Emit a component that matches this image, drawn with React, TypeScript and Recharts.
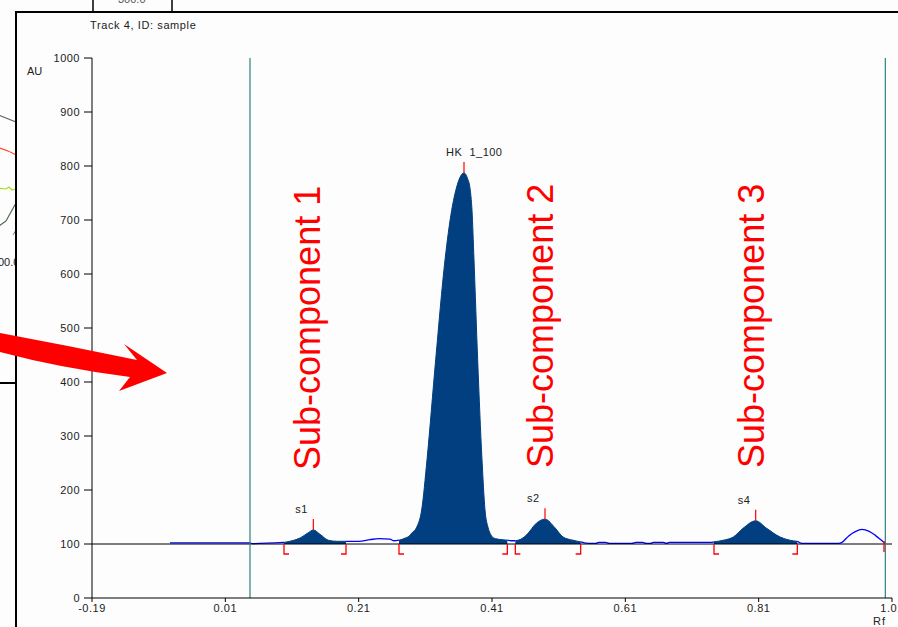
import { Area, ComposedChart, Line, ReferenceLine, Scatter, XAxis, YAxis } from "recharts";

// densitogram trace, [Rf, AU]
const leadIn: [number, number][] = [
  [-0.073, 102], [0.0, 102], [0.047, 102], [0.05, 100.8],
];
const peakS1: [number, number][] = [
  [0.098, 103], [0.11, 106], [0.122, 111], [0.1345, 121], [0.142, 126],
  [0.152, 118], [0.1645, 107], [0.177, 105], [0.191, 105],
];
const valleyA: [number, number][] = [
  [0.21, 105], [0.227, 108], [0.24, 110], [0.257, 109], [0.263, 106],
];
const peakMain: [number, number][] = [
  [0.2705, 107], [0.28, 111], [0.287, 116], [0.2895, 120], [0.297, 131],
  [0.3045, 163], [0.3125, 256], [0.3255, 441], [0.3395, 626], [0.3495, 718],
  [0.357, 761], [0.362, 779], [0.368, 787], [0.373, 778], [0.377, 759],
  [0.38, 718], [0.383, 626], [0.3885, 441], [0.395, 256], [0.3995, 163],
  [0.404, 131], [0.407, 120], [0.41, 114], [0.415, 110], [0.425, 108], [0.433, 107],
];
const peakS2: [number, number][] = [
  [0.439, 106], [0.445, 106], [0.455, 110], [0.462, 117], [0.477, 139],
  [0.4895, 146], [0.5045, 130], [0.5165, 113], [0.5315, 107], [0.543, 104],
];
const flatRun: [number, number][] = [
  [0.556, 101], [0.566, 101], [0.57, 103], [0.58, 103], [0.586, 101],
  [0.62, 101], [0.626, 103], [0.636, 103], [0.641, 101], [0.648, 101],
  [0.652, 103], [0.667, 103], [0.672, 101], [0.676, 103], [0.738, 103],
];
const peakS4: [number, number][] = [
  [0.743, 104], [0.757, 107], [0.772, 113], [0.7865, 129], [0.8055, 143],
  [0.822, 129], [0.842, 113], [0.857, 107], [0.868, 105],
];
const tailBump: [number, number][] = [
  [0.875, 101], [0.93, 101], [0.935, 103], [0.945, 115], [0.955, 123],
  [0.965, 127], [0.975, 124], [0.985, 116], [0.995, 106], [1.0, 101],
];

// integration windows (start, end)
const windows: [number, number][] = [
  [0.098, 0.191], [0.2705, 0.433], [0.445, 0.543], [0.743, 0.868],
];

const peakRf = [0.142, 0.368, 0.4895, 0.8055];
const peakAu = [126, 787, 146, 143];
const peakNames = ["s1", "HK  1_100", "s2", "s4"];

const bracketRf = [0.098, 0.191, 0.2705, 0.433, 0.445, 0.543, 0.743, 0.868, 0.998];
const bracketKind = ["start", "end", "start", "end", "start", "end", "start", "end", "edge"];

const trackLines = [0.047, 1.0];
const baseline = 100;

const xTicks = [-0.19, 0.01, 0.21, 0.41, 0.61, 0.81, 1.01];
const yTicks = [0, 100, 200, 300, 400, 500, 600, 700, 800, 900, 1000];

const FONT = "'Liberation Sans', Arial, sans-serif";
const NAVY = "#013f80";

const trace = [...leadIn, ...peakS1, ...valleyA, ...peakMain, ...peakS2, ...flatRun, ...peakS4, ...tailBump];
const inside = (rf: number) => windows.some(([a, b]) => rf > a && rf < b);
const inWindow = (rf: number) => windows.some(([a, b]) => rf >= a && rf <= b);
const rows = trace.map(([rf, au]) => ({
  rf,
  raw: inside(rf) ? null : au,
  filled: inWindow(rf) ? au : null,
}));
const peaks = peakRf.map((rf, i) => ({ rf, au: peakAu[i], name: peakNames[i] }));
const brackets = bracketRf.map((rf, i) => ({ rf, au: baseline, kind: bracketKind[i] }));

const PeakMark = (props: any) => {
  const { cx, cy, payload } = props;
  return (
    <g>
      <line x1={cx} y1={cy} x2={cx} y2={cy - 11} stroke="#ff0000" strokeWidth={1.2} />
      <text x={cx - 18} y={cy - 17} fontSize={11} fontFamily={FONT} fill="#222"
        letterSpacing={0.5} style={{ whiteSpace: "pre" }}>
        {payload.name}
      </text>
    </g>
  );
};

const Bracket = (props: any) => {
  const { cx, cy, payload } = props;
  let d = `M${cx},${cy - 3} V${cy + 8}`;
  if (payload.kind === "start") d = `M${cx},${cy} V${cy + 10} H${cx + 5}`;
  if (payload.kind === "end") d = `M${cx},${cy} V${cy + 10} H${cx - 5}`;
  return <path d={d} stroke="#ff0000" strokeWidth={1.3} fill="none" />;
};

const tickStyle = { fontSize: 11, fill: "#222", fontFamily: FONT, letterSpacing: 0.5 };

export default function App() {
  return (
    <div style={{ position: "fixed", left: 0, top: 0, width: 898, height: 627, background: "#fdfdfd", overflow: "hidden" }}>
      <ComposedChart width={898} height={627} data={rows}
        margin={{ top: 58, right: 6, bottom: 0, left: 0 }}>
        <XAxis type="number" dataKey="rf" domain={[-0.19, 1.01]} ticks={xTicks} interval={0}
          height={29} tickSize={4} tickMargin={2} allowDataOverflow
          axisLine={{ stroke: "#000" }} tickLine={{ stroke: "#000" }} tick={tickStyle} />
        <YAxis type="number" domain={[0, 1000]} ticks={yTicks} interval={0} width={92}
          tickSize={8} tickMargin={4}
          axisLine={{ stroke: "#000" }} tickLine={{ stroke: "#000" }} tick={tickStyle} />
        <Area type="monotone" dataKey="filled" baseValue={baseline} stroke={NAVY} fill={NAVY}
          fillOpacity={1} strokeWidth={1} connectNulls={false} isAnimationActive={false} />
        <Line type="monotone" dataKey="raw" stroke="#0000ff" strokeWidth={1.3} dot={false}
          connectNulls={false} isAnimationActive={false} />
        <ReferenceLine y={baseline} stroke="#000" strokeWidth={1.2} />
        {trackLines.map((x) => (
          <ReferenceLine key={x} x={x} stroke="#2e8080" strokeWidth={1.2} />
        ))}
        <Scatter data={peaks} dataKey="au" shape={PeakMark} isAnimationActive={false} />
        <Scatter data={brackets} dataKey="au" shape={Bracket} isAnimationActive={false} />
      </ComposedChart>

      <svg width={898} height={627} style={{ position: "absolute", left: 0, top: 0, pointerEvents: "none" }}>
        <defs>
          <clipPath id="leftPanel">
            <rect x={0} y={0} width={15} height={627} />
          </clipPath>
        </defs>
        {/* pieces of the neighbouring panels in the original collage */}
        <rect x={93} y={-4} width={79} height={16} fill="none" stroke="#000" strokeWidth={1.5} />
        <text x={118} y={3} fontSize={11} fontFamily={FONT} fill="#555">300.0</text>
        <g clipPath="url(#leftPanel)">
          <path d="M-4,114 L16,122" stroke="#666" strokeWidth={1.2} fill="none" />
          <path d="M-4,147 Q8,150 16,155" stroke="#ff4422" strokeWidth={1.2} fill="none" />
          <path d="M-4,188 L6,189 L9,187 L12,190 L16,189" stroke="#aadd11" strokeWidth={1.2} fill="none" />
          <path d="M-4,228 L6,221 M6,221 L16,203" stroke="#556b55" strokeWidth={1.2} fill="none" />
          <path d="M13,235 L16,230" stroke="#777" fill="none" />
          <text x={-2} y={266} fontSize={11} fontFamily={FONT} fill="#222">00.0</text>
          <path d="M0,383 H16" stroke="#000" strokeWidth={2} />
        </g>
        <path d="M16,627 V12 H898" stroke="#000" strokeWidth={2} fill="none" />

        <text x={90} y={29} fontSize={11} fontFamily={FONT} fill="#222" letterSpacing={0.6}>
          Track 4, ID: sample
        </text>
        <text x={27} y={75} fontSize={11} fontFamily={FONT} fill="#222">AU</text>
        <text x={873} y={625} fontSize={11} fontFamily={FONT} fill="#222" letterSpacing={1}>Rf</text>

        <path d="M0,333 Q70,346 137,360 L124,344 L167,373 L119,391 L130,377 Q60,368 0,352 Z" fill="#ff0000" />

        <text transform="translate(320,470) rotate(-90)" fontSize={36} fontFamily={FONT} fill="#ff0000">Sub-component 1</text>
        <text transform="translate(553,468) rotate(-90)" fontSize={36} fontFamily={FONT} fill="#ff0000">Sub-component 2</text>
        <text transform="translate(764,468) rotate(-90)" fontSize={36} fontFamily={FONT} fill="#ff0000">Sub-component 3</text>
      </svg>
    </div>
  );
}
